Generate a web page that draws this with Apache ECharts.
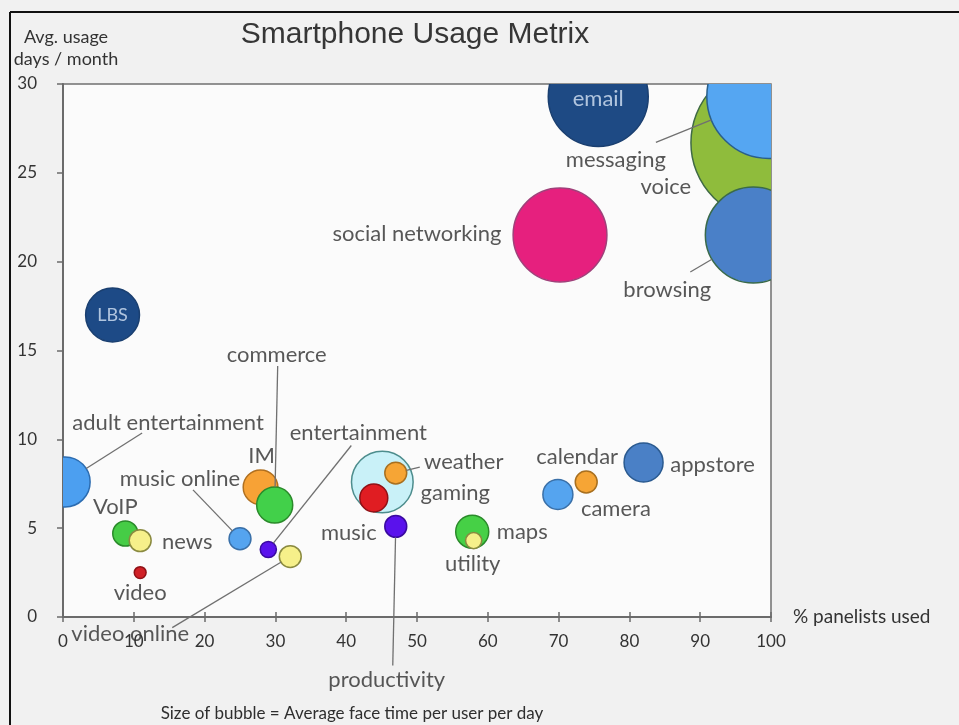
<!DOCTYPE html>
<html><head><meta charset="utf-8">
<script src="https://cdn.jsdelivr.net/npm/echarts@6/dist/echarts.min.js"></script>
<style>html,body{margin:0;padding:0;background:#f1f1f1;}#chart{width:959px;height:725px;}</style>
</head><body><div id="chart"></div>
<script>
// ---- data ----
const apps = ['voice','messaging','email','browsing','social networking','LBS','adult entertainment','gaming','IM','commerce','music online','entertainment','video online','VoIP','news','video','weather','music','productivity','maps','utility','camera','calendar','appstore'];
const pctPanelistsUsed = [99.7, 99.7, 75.6, 97.5, 70.2, 7.0, 0.3, 45.1, 27.9, 29.9, 25.0, 29.0, 32.1, 8.8, 10.9, 10.9, 47.0, 43.9, 47.0, 57.8, 58.0, 69.9, 73.9, 82.0];
const avgUsageDaysPerMonth = [26.7, 29.3, 29.3, 21.5, 21.5, 17.0, 7.6, 7.6, 7.3, 6.3, 4.4, 3.8, 3.4, 4.7, 4.3, 2.5, 8.1, 6.7, 5.1, 4.8, 4.3, 6.9, 7.6, 8.7];
const avgFaceTime = [243, 154, 100, 92, 88, 29, 25, 38, 12, 13, 4.8, 2.6, 4.8, 6.3, 4.8, 1.4, 4.8, 7.8, 4.8, 10.9, 2.6, 9, 4.8, 15.2];
const xAxisRange = {min: 0, max: 100, step: 10};
const yAxisRange = {min: 0, max: 30, step: 5};

// ---- styles ----
const BUBBLE_STYLE = {
  'voice': ['#8fbc3c', '#3f6a45'],
  'messaging': ['#55a6f2', '#2a5f8a'],
  'email': ['#1e4a84', '#1a3f70'],
  'browsing': ['#4a80c8', '#3a6a4a'],
  'social networking': ['#e6207e', '#a0407a'],
  'LBS': ['#1d4a86', '#1a3f70'],
  'adult entertainment': ['#4c9ff0', '#2c6cb0'],
  'gaming': ['#c9f1f8', '#4d8d8d'],
  'IM': ['#f7a236', '#b07020'],
  'commerce': ['#42d04a', '#2a8a2a'],
  'music online': ['#55a4ef', '#3a70a8'],
  'entertainment': ['#5a12ec', '#3a0aa0'],
  'video online': ['#f6f08a', '#8a8a40'],
  'VoIP': ['#46cc46', '#2a8a2a'],
  'news': ['#f6f08a', '#8a8a40'],
  'video': ['#d02026', '#901015'],
  'weather': ['#f6a535', '#a87020'],
  'music': ['#e01d22', '#901015'],
  'productivity': ['#5a12ec', '#3a0aa0'],
  'maps': ['#46d046', '#2a8a2a'],
  'utility': ['#f6f08a', '#8a8a40'],
  'camera': ['#55a4ef', '#3a70a8'],
  'calendar': ['#f6a535', '#a87020'],
  'appstore': ['#4a80c6', '#2a5a90']
};
// label centre offset from bubble centre (px)
const LABEL_OFFSET = {
  'voice': [-103, 44], 'messaging': [-153, 63], 'email': [0, 2], 'browsing': [-86, 55],
  'social networking': [-143, -1], 'LBS': [0, 0], 'adult entertainment': [103, -59],
  'gaming': [73, 11], 'IM': [1, -31], 'commerce': [2, -150], 'music online': [-60, -60],
  'entertainment': [90, -117], 'video online': [-160, 77], 'VoIP': [-10, -27], 'news': [47, 1],
  'video': [0, 20], 'weather': [68, -11], 'music': [-25, 35], 'productivity': [-9, 154],
  'maps': [50, 0], 'utility': [-1, 23], 'camera': [58, 14], 'calendar': [-9, -25], 'appstore': [69, 2]
};
// leader line end (label side), offset from bubble centre (px)
const LEADER_END = {
  'messaging': [-113, 46], 'browsing': [-63, 37], 'adult entertainment': [77, -49],
  'commerce': [3, -139], 'music online': [-47, -49], 'entertainment': [83, -104],
  'video online': [-118, 71], 'weather': [24, -6], 'productivity': [-3, 139]
};
const INSIDE_WHITE = ['email','LBS'];
const LABEL_FONT = 'Lato';
const radiusOf = v => 5 * Math.sqrt(v);

const chart = echarts.init(document.getElementById('chart'));
const points = apps.map((n, i) => [pctPanelistsUsed[i], avgUsageDaysPerMonth[i], avgFaceTime[i], i]);

chart.setOption({
  backgroundColor: '#f1f1f1',
  animation: false,
  title: {
    text: 'Smartphone Usage Metrix', left: 410, top: 15, textAlign: 'center',
    textStyle: {fontFamily: 'Liberation Sans', fontSize: 30, fontWeight: 'normal', color: '#363636'}
  },
  grid: {left: 63, top: 84, right: 188, bottom: 108, show: true, backgroundColor: '#fbfbfb', borderColor: '#707070', borderWidth: 1.5},
  xAxis: [{
    type: 'value', min: xAxisRange.min, max: xAxisRange.max, interval: xAxisRange.step,
    name: '% panelists used', nameLocation: 'end', nameGap: 22,
    nameTextStyle: {fontFamily: LABEL_FONT, fontSize: 19, color: '#333', verticalAlign: 'middle'},
    axisLine: {show: true, lineStyle: {color: '#6b6b6b', width: 2}},
    axisTick: {show: true, length: 5, lineStyle: {color: '#6b6b6b', width: 1.5}},
    axisLabel: {margin: 16, fontFamily: LABEL_FONT, fontSize: 17, color: '#333'},
    splitLine: {show: false}
  }, {
    type: 'value', min: xAxisRange.min, max: xAxisRange.max, interval: xAxisRange.step, position: 'bottom',
    axisLine: {show: false}, axisLabel: {show: false}, splitLine: {show: false},
    axisTick: {show: true, inside: true, length: 5, lineStyle: {color: '#6b6b6b', width: 1.5}}
  }],
  yAxis: {
    type: 'value', min: yAxisRange.min, max: yAxisRange.max, interval: yAxisRange.step,
    name: 'Avg. usage\ndays / month', nameLocation: 'end', nameGap: 14,
    nameTextStyle: {fontFamily: LABEL_FONT, fontSize: 18, lineHeight: 22, color: '#333', align: 'center', padding: [0, 0, 0, 6]},
    axisLine: {show: true, lineStyle: {color: '#6b6b6b', width: 2}},
    axisTick: {show: true, length: 6, lineStyle: {color: '#6b6b6b', width: 1.5}},
    axisLabel: {margin: 26, fontFamily: LABEL_FONT, fontSize: 17, color: '#333'},
    splitLine: {show: false}
  },
  graphic: [
    {type: 'line', shape: {x1: 10, y1: 12, x2: 959, y2: 12}, style: {stroke: '#111', lineWidth: 2}},
    {type: 'line', shape: {x1: 10, y1: 12, x2: 10, y2: 725}, style: {stroke: '#111', lineWidth: 2}},
    {type: 'text', x: 352, y: 714, style: {text: 'Size of bubble = Average face time per user per day', fill: '#2e2e2e', font: '17px Lato', align: 'center', verticalAlign: 'middle', textAlign: 'center', textVerticalAlign: 'middle'}}
  ],
  series: [{
    // bubbles, cropped at the plot frame
    type: 'custom', clip: true, z: 2, silent: true,
    data: points,
    encode: {x: 0, y: 1},
    renderItem: function (params, api) {
      const c = api.coord([api.value(0), api.value(1)]);
      const st = BUBBLE_STYLE[apps[api.value(3)]];
      return {type: 'circle', shape: {cx: c[0], cy: c[1], r: radiusOf(api.value(2))},
        style: {fill: st[0], stroke: st[1], lineWidth: 1.5}};
    }
  }, {
    // leader lines from bubble edge to label
    type: 'custom', clip: false, z: 3, silent: true,
    data: points,
    encode: {x: 0, y: 1},
    renderItem: function (params, api) {
      const e = LEADER_END[apps[api.value(3)]];
      if (!e) return null;
      const c = api.coord([api.value(0), api.value(1)]);
      const r = radiusOf(api.value(2));
      const d = Math.hypot(e[0], e[1]);
      return {type: 'line', shape: {x1: c[0] + e[0] * r / d, y1: c[1] + e[1] * r / d, x2: c[0] + e[0], y2: c[1] + e[1]},
        style: {stroke: '#707070', lineWidth: 1.3}};
    }
  }, {
    // labels
    type: 'scatter', z: 4, clip: false, silent: true,
    symbolSize: v => 2 * radiusOf(v[2]),
    itemStyle: {color: 'rgba(0,0,0,0)', borderWidth: 0},
    label: {show: true, position: 'inside', formatter: '{b}', fontFamily: LABEL_FONT, fontSize: 22, color: '#2e2e2e'},
    labelLayout: function (params) {
      const o = LABEL_OFFSET[apps[params.dataIndex]];
      return {dx: o[0], dy: o[1]};
    },
    data: points.map((p, i) => {
      const n = apps[i];
      const white = INSIDE_WHITE.indexOf(n) >= 0;
      return {
        name: n, value: p,
        label: {color: white ? '#d6e4f5' : '#2e2e2e', fontSize: n === 'LBS' ? 18 : 22}
      };
    })
  }]
});
</script></body></html>
